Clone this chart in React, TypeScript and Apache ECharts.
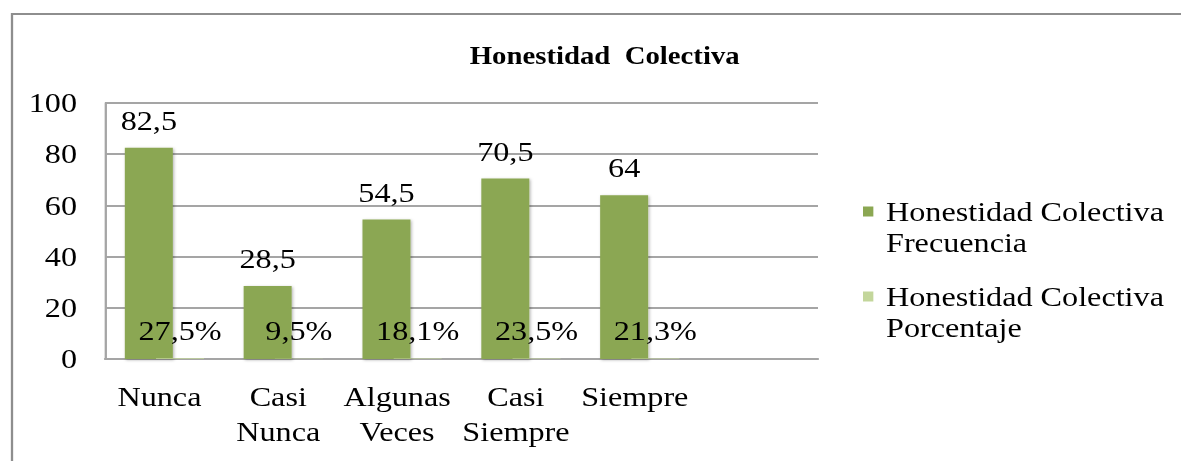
import React, { useEffect, useRef } from "react";
import * as echarts from "echarts";

const categories = ["Nunca", "Casi\nNunca", "Algunas\nVeces", "Casi\nSiempre", "Siempre", ""];
const frecuencia = [82.5, 28.5, 54.5, 70.5, 64, null];
const porcentaje = [0.275, 0.095, 0.181, 0.235, 0.213, null];
const seriesNames = ["Honestidad Colectiva\nFrecuencia", "Honestidad Colectiva\nPorcentaje"];
const titleText = "Honestidad  Colectiva";
const yTicks = { min: 0, max: 100, interval: 20 };

const FONT = "'Liberation Serif', 'Times New Roman', serif";
// The reference is stretched horizontally; draw narrower and stretch with CSS.
const SX = 1.15;
const W = Math.round(1181 / SX);
const X = (v: number) => v / SX;

export default function App() {
  const ref = useRef<HTMLDivElement>(null);
  useEffect(() => {
    if (!ref.current) return;
    const chart = echarts.init(ref.current, null, { renderer: "svg" });
    chart.setOption({
      animation: false,
      backgroundColor: "#ffffff",
      textStyle: { fontFamily: FONT, color: "#000" },
      title: {
        text: titleText,
        left: X(464),
        top: 38,
        textStyle: { fontFamily: FONT, fontWeight: "bold", fontSize: 25, color: "#000" },
      },
      graphic: [
        {
          type: "rect",
          shape: { x: X(12), y: 14, width: 1300, height: 600 },
          style: { fill: "none", stroke: "#8e8e8e", lineWidth: 2 },
          silent: true,
        },
      ],
      legend: {
        orient: "vertical",
        left: X(863),
        top: 165,
        padding: 0,
        itemWidth: 9,
        itemHeight: 10,
        itemGap: -8,
        icon: "rect",
        formatter: (name: string) => "\n" + name,
        textStyle: {
          fontFamily: FONT,
          fontSize: 28,
          lineHeight: 31,
          color: "#000",
          padding: [0, 0, 0, 6],
        },
        data: seriesNames,
      },
      grid: { left: X(105), top: 103, right: W - X(818), bottom: 102 },
      xAxis: {
        type: "category",
        data: categories,
        axisLine: { show: true, lineStyle: { color: "#a5a5a5", width: 2 } },
        axisTick: { show: false },
        axisLabel: {
          interval: 0,
          margin: 20,
          fontFamily: FONT,
          fontSize: 28,
          lineHeight: 35,
          color: "#000",
          padding: [0, X(10), 0, 0],
        },
      },
      yAxis: {
        type: "value",
        min: yTicks.min,
        max: yTicks.max,
        interval: yTicks.interval,
        axisLine: { show: true, lineStyle: { color: "#a5a5a5", width: 2 } },
        axisTick: { show: false },
        splitLine: { lineStyle: { color: "#a5a5a5", width: 2 } },
        axisLabel: { margin: X(28), fontFamily: FONT, fontSize: 28, color: "#000" },
      },
      series: [
        {
          name: seriesNames[0],
          type: "bar",
          data: frecuencia,
          barWidth: X(48),
          itemStyle: {
            color: "#8ba752",
            shadowBlur: 3,
            shadowColor: "rgba(0,0,0,0.3)",
            shadowOffsetX: 1,
            shadowOffsetY: 1,
          },
          label: {
            show: true,
            position: "top",
            distance: 13,
            fontFamily: FONT,
            fontSize: 28,
            color: "#000",
            formatter: (p: any) => String(p.value).replace(".", ","),
          },
        },
        {
          name: seriesNames[1],
          type: "bar",
          data: porcentaje,
          barWidth: X(48),
          barGap: "-35%",
          itemStyle: { color: "#c3d69b" },
          label: {
            show: true,
            position: "top",
            distance: 14,
            fontFamily: FONT,
            fontSize: 28,
            color: "#000",
            formatter: (p: any) => (p.value * 100).toFixed(1).replace(".", ",") + "%",
          },
        },
      ],
    });
    return () => chart.dispose();
  }, []);
  return (
    <div
      style={{ position: "absolute", left: 0, top: 0, width: 1181, height: 461, overflow: "hidden" }}
    >
      <div
        ref={ref}
        style={{
          width: W,
          height: 461,
          transform: `scaleX(${SX})`,
          transformOrigin: "0 0",
        }}
      />
    </div>
  );
}
